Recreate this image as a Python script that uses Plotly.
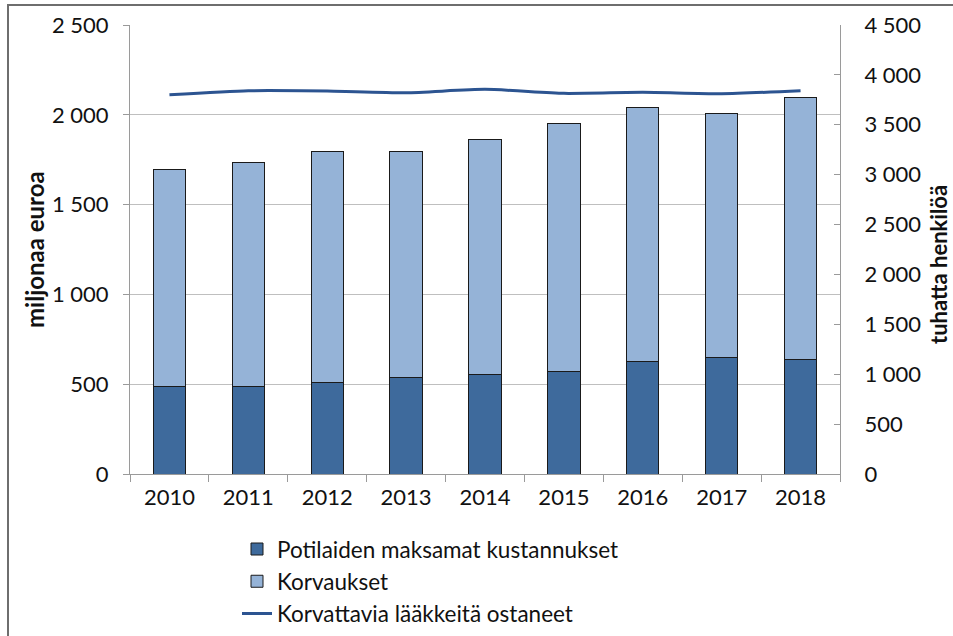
import plotly.graph_objects as go

years = ["2010", "2011", "2012", "2013", "2014", "2015", "2016", "2017", "2018"]
potilaat = [488, 488, 507, 536, 553, 570, 629, 646, 640]
korvaukset = [1210, 1249, 1286, 1262, 1307, 1384, 1409, 1364, 1459]
ostaneet = [3800, 3841, 3838, 3821, 3855, 3815, 3825, 3811, 3841]

font = "Lato, 'Open Sans', sans-serif"
grid = "#BFBFBF"
axis_col = "#9A9A9A"

# plot area in pixels: x 130..840, y 25..474
L, R, T, B = 130, 840, 25, 474
pw, ph = R - L, B - T

fig = go.Figure()
fig.add_trace(go.Bar(x=years, y=potilaat, name="Potilaiden maksamat kustannukset",
                     marker=dict(color="#3E6A9C", line=dict(color="#1A1A1A", width=1)),
                     width=0.41))
fig.add_trace(go.Bar(x=years, y=korvaukset, name="Korvaukset",
                     marker=dict(color="#95B3D7", line=dict(color="#1A1A1A", width=1)),
                     width=0.41))
fig.add_trace(go.Scatter(x=years, y=ostaneet, name="Korvattavia lääkkeitä ostaneet",
                         yaxis="y2", mode="lines",
                         line=dict(color="#2C5491", width=3, shape="spline", smoothing=0.6)))

fig.update_layout(
    width=953, height=636,
    margin=dict(l=L, r=953 - R, t=T, b=636 - B, autoexpand=False),
    paper_bgcolor="white", plot_bgcolor="white",
    barmode="stack", bargap=0.59,
    separators=", ",
    font=dict(family=font, size=22, color="#111111"),
    showlegend=True,
    legend=dict(x=(237 - L) / pw, y=-0.12, xanchor="left", yanchor="top",
                traceorder="normal", font=dict(size=22.5), tracegroupgap=0,
                itemwidth=30),
    xaxis=dict(type="category", showline=True, linecolor=axis_col, linewidth=1,
               ticks="outside", ticklen=7, tickcolor=axis_col, tickson="boundaries",
               showgrid=False, automargin=False, ticklabelstandoff=4),
    yaxis=dict(range=[0, 2500], dtick=500, tickformat=",d", showgrid=True,
               gridcolor=grid, gridwidth=1, showline=True, linecolor=axis_col,
               ticks="outside", ticklen=6, tickcolor=axis_col, zeroline=False,
               automargin=False, ticklabelstandoff=10),
    yaxis2=dict(range=[0, 4500], dtick=500, tickformat=",d", overlaying="y", side="right",
                showgrid=False, showline=True, linecolor=axis_col, zeroline=False,
                ticks="inside", ticklen=6, tickcolor=axis_col,
                automargin=False, ticklabelstandoff=19),
)

# axis titles
fig.add_annotation(text="<b>miljonaa euroa</b>", xref="paper", yref="paper",
                   x=(34 - L) / pw, y=(B - 250) / ph, textangle=-90,
                   xanchor="center", yanchor="middle",
                   showarrow=False, font=dict(size=24))
fig.add_annotation(text="<b>tuhatta henkilöä</b>", xref="paper", yref="paper",
                   x=(938 - L) / pw, y=(B - 265) / ph, textangle=-90,
                   xanchor="center", yanchor="middle",
                   showarrow=False, font=dict(size=22))

# outer chart frame (left and top edges visible)
fig.add_shape(type="rect", xref="paper", yref="paper",
              x0=(8 - L) / pw, x1=(970 - L) / pw, y0=(B - 660) / ph, y1=(B - 5) / ph,
              line=dict(color="#6E6E6E", width=2))

# page has a default 8px body margin; drop it so the figure fills the window
fig.write_html("out.html", config={"displayModeBar": False},
               post_script="document.body.style.margin='0';")
